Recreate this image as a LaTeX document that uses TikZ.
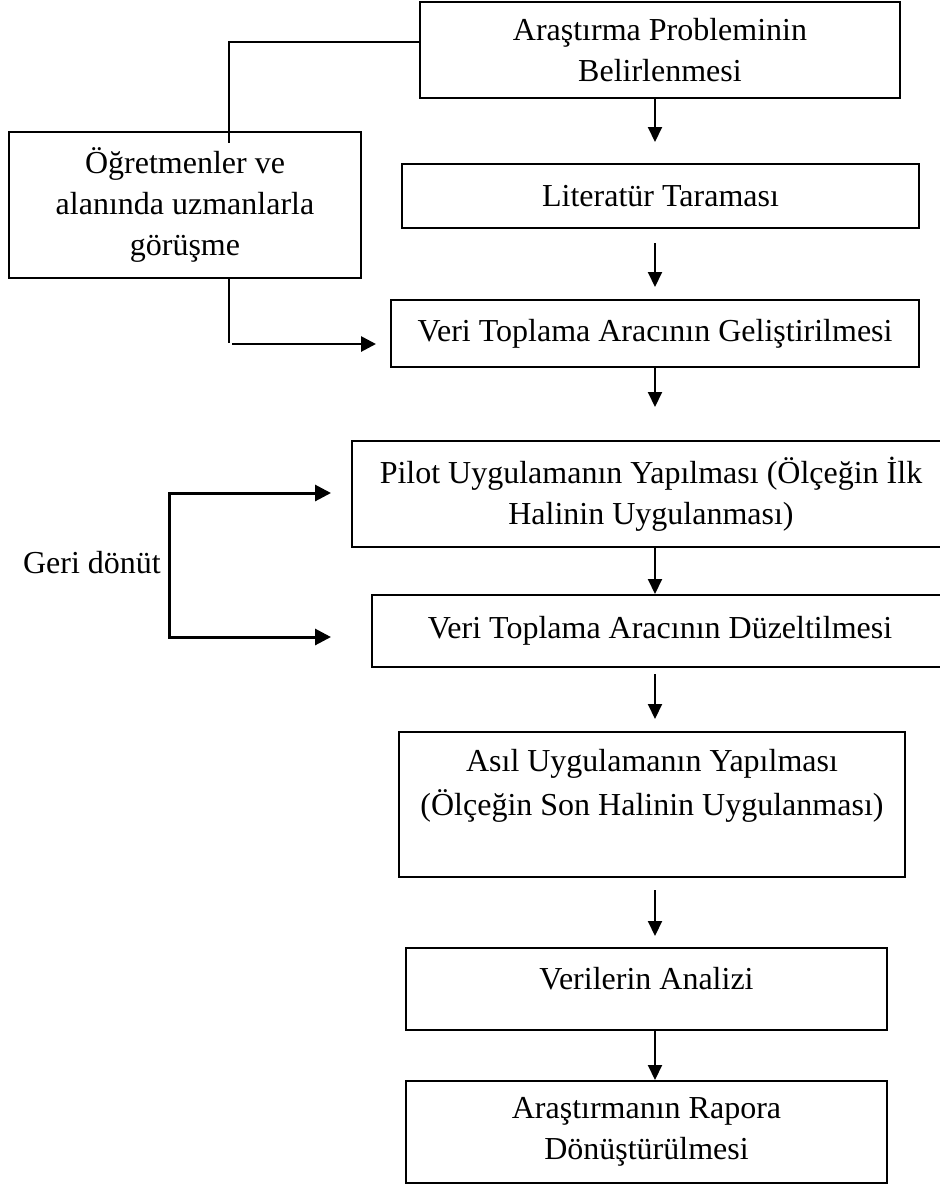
\documentclass[tikz,border=0pt]{standalone}
\usepackage{fontspec}
\setmainfont{Liberation Serif}
\usetikzlibrary{arrows.meta,calc}
\begin{document}
\begin{tikzpicture}[x=0.5pt,y=-0.5pt,
  box/.style={draw, line width=1pt, rectangle, inner sep=0pt, align=center,
              font=\fontsize{16}{20.5}\selectfont},
  lbl/.style={inner sep=0pt, font=\fontsize{16}{20.5}\selectfont},
  varr/.style={line width=1pt, -{Triangle[length=7.5pt,width=7pt]}},
  thickln/.style={line width=1.4pt},
  thinln/.style={line width=0.7pt},
  harr/.style={line width=1.4pt, -{Triangle[length=7.5pt,width=7.5pt]}},
  fb/.style={line width=1.5pt, {Triangle[length=8pt,width=8pt]}-{Triangle[length=8pt,width=8pt]}}
]
\useasboundingbox (0,0) rectangle (940,1185);
\clip (0,0) rectangle (940,1185);

% main column boxes
\node[box, minimum width=240pt, minimum height=48.25pt] (b1) at (660,49.75) {Araştırma Probleminin\\Belirlenmesi};
\node[box, minimum width=258.5pt, minimum height=32pt] (b2) at (660.5,196) {Literatür Taraması};
\node[box, minimum width=264pt, minimum height=33.5pt] (b3) at (655,333.5) {Veri Toplama Aracının Geliştirilmesi};
\node[box, minimum width=299pt, minimum height=53pt] (b4) at (651,494) {Pilot Uygulamanın Yapılması (Ölçeğin İlk\\Halinin Uygulanması)};
\node[box, minimum width=288pt, minimum height=36pt] (b5) at (660,631) {Veri Toplama Aracının Düzeltilmesi};
\node[box, minimum width=253pt, minimum height=72.5pt, font=\fontsize{16}{22}\selectfont] (b6) at (652,804.5) {Asıl Uygulamanın Yapılması\\(Ölçeğin Son Halinin Uygulanması)\\~};
\node[box, minimum width=240.5pt, minimum height=41pt, text height=11pt, text depth=11pt] (b7) at (646.5,989) {Verilerin Analizi};
\node[box, minimum width=240.5pt, minimum height=51pt] (b8) at (646.5,1132) {Araştırmanın Rapora\\Dönüştürülmesi};

% side box and label
\node[box, minimum width=176pt, minimum height=73pt] (lb) at (185,205) {Öğretmenler ve\\alanında uzmanlarla\\görüşme};
\node[lbl] (gd) at (92,563) {Geri dönüt};

% vertical arrows
\coordinate (col) at (655,0);
\draw[varr, shorten >=10.5pt] (b1.south -| col) -- (b2.north -| col);
\draw[varr, shorten <=7pt, shorten >=6pt] (b2.south -| col) -- (b3.north -| col);
\draw[varr, shorten >=16.5pt] (b3.south -| col) -- (b4.north -| col);
\draw[varr] (b4.south -| col) -- (b5.north -| col);
\draw[varr, shorten <=3pt, shorten >=6pt] (b5.south -| col) -- (b6.north -| col);
\draw[varr, shorten <=6pt, shorten >=5.5pt] (b6.south -| col) -- (b7.north -| col);
\draw[varr] (b7.south -| col) -- (b8.north -| col);

% side connectors
\coordinate (c1) at (229,42);
\coordinate (c2) at (229,143);
\draw[thickln] (b1.west |- c1) -- (c1) -- (c2);
\coordinate (c3) at (229,343);
\draw[thinln] (lb.south -| c3) -- (c3);
\coordinate (c4) at (232,344);
\draw[harr, shorten >=7pt] (c4) -- (c4 -| b3.west);

% feedback bracket
\coordinate (g1) at (169,493);
\coordinate (g2) at (169,637);
\draw[fb, shorten <=10pt, shorten >=20pt] (g1 -| b4.west) -- (g1) -- (g2) -- (g2 -| b5.west);
\end{tikzpicture}
\end{document}
